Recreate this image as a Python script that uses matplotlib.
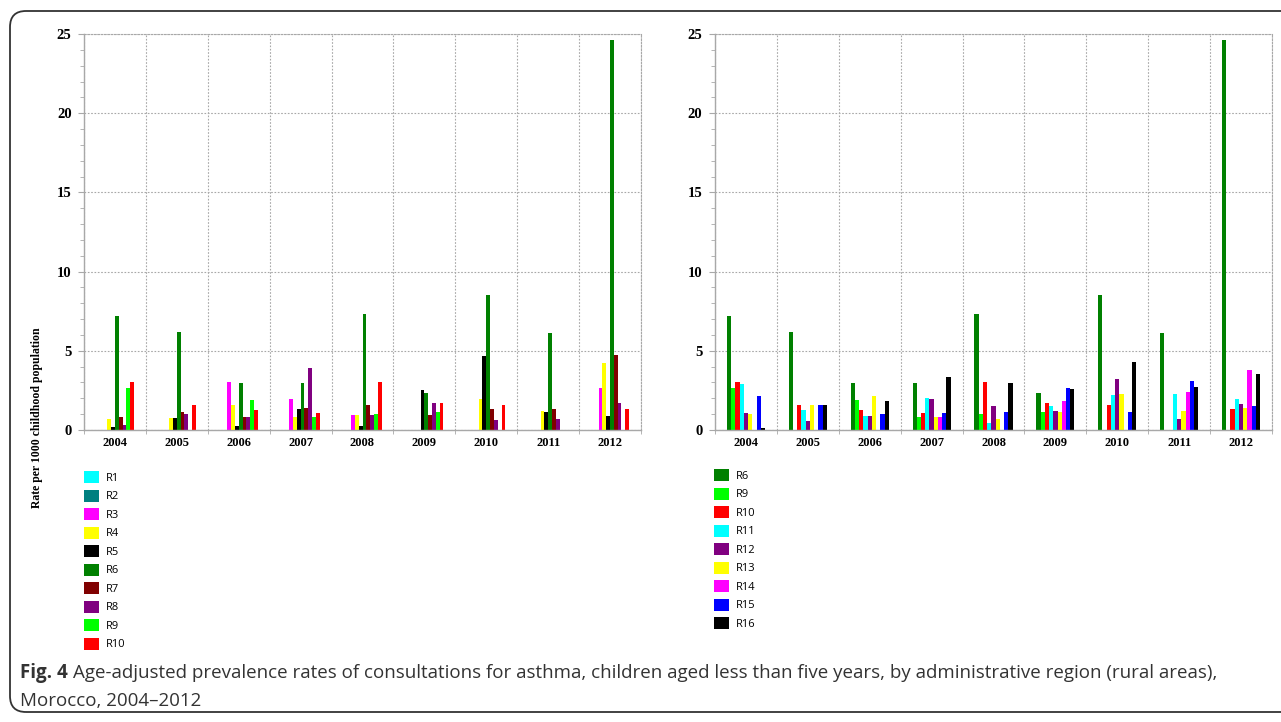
import numpy as np
import matplotlib
matplotlib.use("Agg")
import matplotlib.pyplot as plt
from matplotlib.patches import Patch, FancyBboxPatch
from matplotlib.transforms import IdentityTransform

#######################
###     data        ###
#######################

years = ['2004', '2005', '2006', '2007', '2008', '2009', '2010', '2011', '2012']

R1 = [0, 0, 0, 0, 0, 0, 0, 0, 0]
R2 = [0, 0, 0, 0, 0, 0, 0, 0, 0]
R3 = [0, 0, 3.0, 1.97, 0.95, 0, 0, 0, 2.63]
R4 = [0.69, 0.76, 1.6, 0.84, 0.95, 0, 1.93, 1.2, 4.24]
R5 = [0.17, 0.76, 0.27, 1.34, 0.27, 2.52, 4.68, 1.16, 0.9]
R6 = [7.2, 6.2, 2.95, 2.95, 7.3, 2.36, 8.5, 6.1, 24.6]
R7 = [0.84, 1.13, 0.84, 1.39, 1.55, 0.95, 1.3, 1.34, 4.75]
R8 = [0.34, 1.03, 0.84, 3.9, 0.95, 1.72, 0.65, 0.69, 1.72]
R9 = [2.67, 0, 1.9, 0.85, 1.0, 1.12, 0, 0, 0]
R10 = [3.02, 1.55, 1.27, 1.1, 3.05, 1.72, 1.55, 0, 1.35]
R11 = [2.93, 1.24, 0.89, 2.03, 0.46, 1.54, 2.22, 2.3, 1.98]
R12 = [1.08, 0.57, 0.89, 1.96, 1.54, 1.18, 3.25, 0.68, 1.65]
R13 = [0.99, 1.58, 2.13, 0.82, 0.68, 1.12, 2.3, 1.22, 1.39]
R14 = [0, 0, 0, 0.82, 0, 1.81, 0, 2.4, 3.8]
R15 = [2.13, 1.6, 1.0, 1.05, 1.16, 2.64, 1.14, 3.08, 1.5]
R16 = [0.1, 1.58, 1.81, 3.35, 2.97, 2.57, 4.3, 2.74, 3.54]

left_names = ['R1', 'R2', 'R3', 'R4', 'R5', 'R6', 'R7', 'R8', 'R9', 'R10']
left_series = [R1, R2, R3, R4, R5, R6, R7, R8, R9, R10]
left_colors = ['#00FFFF', '#008080', '#FF00FF', '#FFFF00', '#000000',
               '#008000', '#800000', '#800080', '#00FF00', '#FF0000']

right_names = ['R6', 'R9', 'R10', 'R11', 'R12', 'R13', 'R14', 'R15', 'R16']
right_series = [R6, R9, R10, R11, R12, R13, R14, R15, R16]
right_colors = ['#008000', '#00FF00', '#FF0000', '#00FFFF', '#800080',
                '#FFFF00', '#FF00FF', '#0000FF', '#000000']

caption_bold = 'Fig. 4'
caption_1 = ('Age-adjusted prevalence rates of consultations for asthma, children aged less than five years, '
             'by administrative region (rural areas),')
caption_2 = 'Morocco, 2004\u20132012'
ylabel = 'Rate per 1000 childhood population'

#######################
###     plot        ###
#######################

W, H = 1281, 722
fig = plt.figure(figsize=(W / 100, H / 100), dpi=100)
fig.patch.set_facecolor('white')

grid_col = '#a8a8a8'
serif = ['Liberation Serif', 'DejaVu Serif']


def draw_panel(ax, series, colors):
    n = len(series)
    group = 0.615
    bw = group / n
    x = np.arange(len(years))
    for i, (vals, c) in enumerate(zip(series, colors)):
        ax.bar(x - group / 2 + bw * (i + 0.5), vals, width=bw, color=c, linewidth=0)
    ax.set_xlim(-0.5, len(years) - 0.5)
    ax.set_ylim(0, 25)
    ax.set_yticks([0, 5, 10, 15, 20, 25])
    ax.set_yticks(np.arange(0, 26, 1), minor=True)
    ax.set_xticks(x)
    ax.set_xticks(np.arange(-0.5, len(years), 1), minor=True)
    ax.set_xticklabels(years)
    ax.tick_params(axis='x', which='major', length=0, pad=5)
    ax.tick_params(axis='x', which='minor', length=3, color=grid_col)
    ax.tick_params(axis='y', which='major', length=4, color=grid_col, pad=5)
    ax.tick_params(axis='y', which='minor', length=3, color=grid_col)
    for lab in ax.get_xticklabels():
        lab.set_family(serif)
        lab.set_weight('bold')
        lab.set_fontsize(9)
    for lab in ax.get_yticklabels():
        lab.set_family(serif)
        lab.set_weight('bold')
        lab.set_fontsize(10.5)
    ax.grid(True, axis='y', which='major', linestyle=(0, (1.5, 1.5)), color=grid_col, linewidth=0.8)
    ax.grid(True, axis='x', which='minor', linestyle=(0, (1.5, 1.5)), color=grid_col, linewidth=0.8)
    ax.set_axisbelow(True)
    for s in ['left', 'bottom']:
        ax.spines[s].set_color(grid_col)
        ax.spines[s].set_linewidth(1.0)
    for s in ['top', 'right']:
        ax.spines[s].set_color(grid_col)
        ax.spines[s].set_linestyle((0, (1.5, 1.5)))
        ax.spines[s].set_linewidth(0.8)


ax1 = fig.add_axes([84 / W, 1 - 430 / H, 557 / W, 396 / H])
draw_panel(ax1, left_series, left_colors)
ax2 = fig.add_axes([715 / W, 1 - 430 / H, 557 / W, 396 / H])
draw_panel(ax2, right_series, right_colors)

# legends below the panels
leg_kw = dict(loc='upper left', frameon=False, borderpad=0, borderaxespad=0,
              handlelength=1.35, handleheight=1.35, handletextpad=0.65, labelspacing=0.5,
              prop={'family': ['Open Sans', 'DejaVu Sans'], 'size': 8})
h1 = [Patch(facecolor=c, edgecolor='none') for c in left_colors]
fig.legend(h1, left_names, bbox_to_anchor=(84 / W, 1 - 471 / H), **leg_kw)
h2 = [Patch(facecolor=c, edgecolor='none') for c in right_colors]
fig.legend(h2, right_names, bbox_to_anchor=(714 / W, 1 - 469 / H), **leg_kw)

fig.text(37 / W, 1 - 418 / H, ylabel, rotation=90, ha='center', va='center',
         family=serif, weight='bold', fontsize=8.5)

# caption
cap_font = ['Open Sans', 'DejaVu Sans']
cap_size = 13.5
t0 = fig.text(20 / W, 1 - 673 / H, caption_bold, ha='left', va='center',
              family=cap_font, weight='bold', fontsize=cap_size, color='#333333')
fig.canvas.draw()
bb = t0.get_window_extent()
fig.text((bb.x1 + 5) / W, 1 - 673 / H, caption_1, ha='left', va='center',
         family=cap_font, fontsize=cap_size, color='#333333')
fig.text(20 / W, 1 - 701 / H, caption_2, ha='left', va='center',
         family=cap_font, fontsize=cap_size, color='#333333')

# rounded frame
frame = FancyBboxPatch((10, 10), 1320, H - 21, boxstyle='round,pad=0,rounding_size=16',
                       transform=IdentityTransform(), facecolor='none',
                       edgecolor='#333333', linewidth=1.3)
fig.add_artist(frame)

fig.savefig('out.png', dpi=100)
